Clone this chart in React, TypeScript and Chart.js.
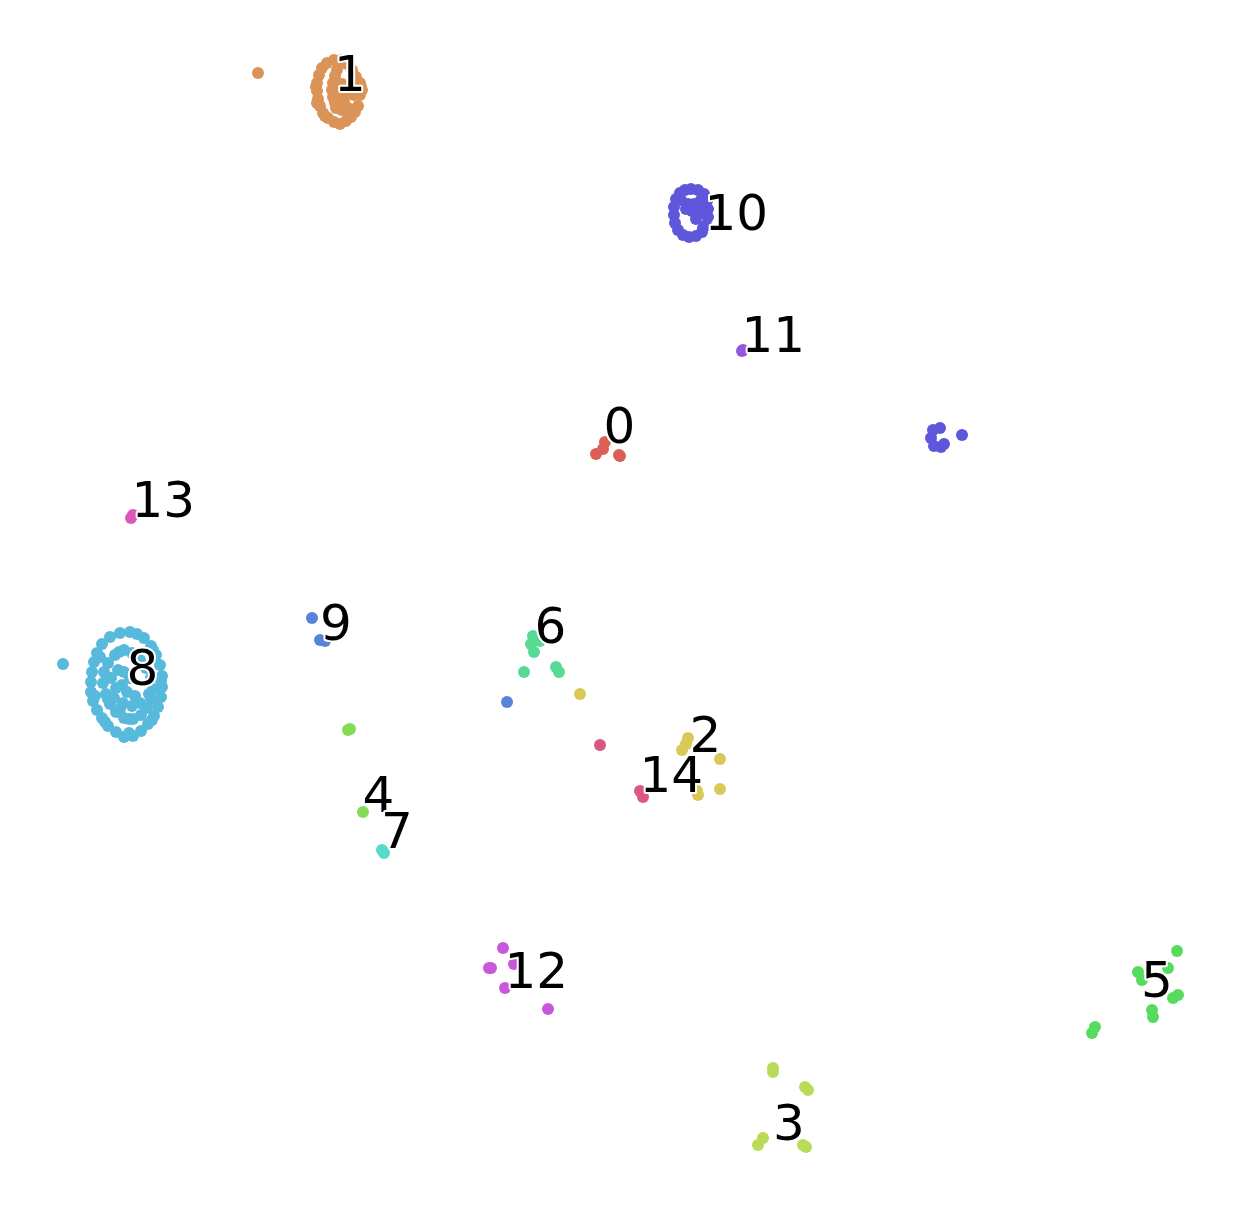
import React, { useEffect, useRef } from "react";
import { Chart, registerables } from "chart.js";

Chart.register(...registerables);

// Cluster points, embedding coordinates [x, y]
const cluster0 = [[-2.4, 15.1], [-1.7, 15.6], [-1.5, 16.3], [-0.1, 15.0], [0.0, 14.9]];
const cluster1 = [
  [-36.2, 53.2], [-28.6, 54.5], [-29.3, 54.2], [-29.8, 53.7], [-30.1, 53.0], [-30.3, 52.2], [-30.3, 51.4],
  [-30.2, 50.6], [-30.0, 49.9], [-29.7, 49.2], [-29.2, 48.7], [-28.6, 48.3], [-28.0, 48.1], [-27.4, 48.4],
  [-26.9, 48.8], [-26.5, 49.3], [-26.2, 49.9], [-27.9, 54.5], [-27.3, 54.1], [-26.8, 53.5], [-26.4, 52.8],
  [-26.0, 52.2], [-25.8, 51.5], [-26.0, 51.0], [-26.6, 51.0], [-27.2, 51.1], [-28.3, 53.5], [-28.5, 52.9],
  [-28.7, 52.2], [-28.8, 51.5], [-28.7, 50.8], [-28.5, 50.2], [-28.4, 49.7], [-27.8, 49.5], [-27.2, 49.7],
  [-27.6, 50.3], [-28.0, 50.8], [-27.9, 51.3], [-27.8, 52.1],
  [-30.4, 51.8], [-30.3, 50.2], [-29.5, 48.9], [-25.9, 51.8],
];
const cluster2 = [[-4.0, -8.9], [6.8, -13.3], [6.6, -13.9], [6.2, -14.5], [10.0, -15.4], [10.0, -18.4], [7.8, -19.0], [7.7, -18.6]];
const cluster3 = [[15.3, -46.3], [15.3, -46.7], [18.5, -48.2], [18.8, -48.5], [14.3, -53.3], [13.8, -54.0], [18.3, -54.0], [18.6, -54.2]];
const cluster4 = [[-27.2, -12.5], [-27.0, -12.4], [-25.7, -20.7]];
const cluster5 = [
  [55.7, -34.6], [51.8, -36.7], [52.2, -37.5], [54.8, -36.3], [55.3, -39.3], [55.8, -39.0],
  [53.2, -40.5], [53.3, -41.2], [47.2, -42.8], [47.5, -42.2],
];
const cluster6 = [[-8.7, -3.1], [-8.9, -3.9], [-8.0, -3.6], [-8.6, -4.7], [-8.4, -3.3], [-9.6, -6.7], [-6.4, -6.2], [-6.1, -6.7]];
const cluster7 = [[-23.8, -24.5], [-23.6, -24.8]];
const cluster8 = [
  [-55.7, -5.9],
  [-49.0, -2.7], [-50.0, -2.8], [-51.0, -3.2], [-51.8, -3.9], [-52.3, -4.8], [-52.6, -5.7], [-52.8, -6.7],
  [-52.9, -7.7], [-52.9, -8.7], [-52.7, -9.6], [-52.3, -10.5], [-51.8, -11.3], [-51.2, -12.1], [-50.4, -12.7],
  [-49.6, -13.2], [-48.7, -13.1], [-47.9, -12.6], [-47.2, -11.9], [-46.6, -11.1], [-46.2, -10.2], [-45.9, -9.2],
  [-45.8, -8.2], [-45.8, -7.1], [-46.0, -6.0], [-46.4, -5.0], [-46.9, -4.1], [-47.6, -3.3], [-48.3, -2.9],
  [-49.6, -4.5], [-50.5, -5.0], [-51.2, -5.8], [-51.6, -6.7], [-51.7, -7.8], [-51.4, -8.9], [-51.0, -9.9],
  [-50.4, -10.7], [-49.6, -11.3], [-48.7, -11.4], [-47.9, -11.0], [-47.3, -10.3], [-46.9, -9.4], [-46.7, -8.4],
  [-46.9, -7.3], [-47.4, -6.3], [-48.0, -5.5], [-48.8, -4.8],
  [-50.2, -6.5], [-49.6, -6.7], [-49.0, -7.3], [-49.8, -8.0], [-50.4, -8.3], [-49.3, -8.7], [-48.5, -9.1],
  [-48.0, -9.8], [-48.8, -10.1], [-49.7, -9.8], [-50.6, -9.3],
  [-52.0, -5.2], [-52.5, -9.1], [-51.5, -11.7], [-49.1, -12.8], [-46.8, -11.5], [-45.9, -7.6], [-46.7, -4.5],
  [-50.9, -7.3], [-51.2, -9.4], [-49.1, -11.4], [-47.1, -8.9], [-50.1, -4.7], [-48.4, -5.1], [-50.0, -10.4],
];
const cluster9 = [[-30.8, -1.3], [-30.0, -3.5], [-29.5, -3.6], [-11.3, -9.7]];
const cluster10 = [
  [7.1, 41.6], [7.8, 41.5], [8.4, 41.1], [8.7, 40.4], [8.8, 39.6], [8.8, 38.8], [8.6, 38.0], [8.2, 37.3],
  [7.6, 36.9], [6.9, 36.8], [6.3, 37.0], [5.8, 37.5], [5.5, 38.2], [5.4, 39.0], [5.4, 39.8], [5.6, 40.6],
  [6.0, 41.2], [6.5, 41.5], [6.8, 40.1], [7.4, 40.1], [7.9, 39.7], [8.0, 39.1], [7.6, 38.6],
  [6.6, 39.6], [7.2, 39.4], [6.1, 40.5], [8.1, 40.5], [8.3, 37.7],
  [31.3, 17.5], [32.0, 17.7], [31.1, 16.7], [31.4, 15.9], [32.1, 15.8], [32.4, 16.1], [34.2, 17.0],
];
const cluster11 = [[12.3, 25.5], [12.2, 25.4]];
const cluster12 = [[-11.7, -34.3], [-12.9, -36.3], [-13.1, -36.3], [-10.6, -35.9], [-11.5, -38.3], [-7.2, -40.4]];
const cluster13 = [[-48.9, 8.7], [-48.7, 9.0]];
const cluster14 = [[-2.0, -14.0], [2.0, -18.6], [2.3, -19.2]];

const clusters = [
  cluster0, cluster1, cluster2, cluster3, cluster4, cluster5, cluster6, cluster7,
  cluster8, cluster9, cluster10, cluster11, cluster12, cluster13, cluster14,
];

// Cluster label text and anchor (left, baseline) in embedding coordinates
const labelNames = ["0", "1", "2", "3", "4", "5", "6", "7", "8", "9", "10", "11", "12", "13", "14"];
const labelX = [-1.65, -28.6, 6.95, 15.3, -25.75, 52.1, -8.55, -23.9, -49.35, -30.0, 8.45, 12.15, -11.55, -48.85, 1.95];
const labelY = [16.2, 51.4, -14.7, -53.5, -20.7, -39.2, -3.8, -24.3, -8.0, -3.5, 37.5, 25.3, -38.3, 8.8, -18.7];

// seaborn-like hls palette (style helper)
function hlsColor(i: number, n: number): string {
  const h = (i / n + 0.01) % 1;
  const l = 0.6, s = 0.65;
  const m2 = l <= 0.5 ? l * (1 + s) : l + s - l * s;
  const m1 = 2 * l - m2;
  const v = (hue: number) => {
    hue = ((hue % 1) + 1) % 1;
    if (hue < 1 / 6) return m1 + (m2 - m1) * hue * 6;
    if (hue < 0.5) return m2;
    if (hue < 2 / 3) return m1 + (m2 - m1) * (2 / 3 - hue) * 6;
    return m1;
  };
  const r = Math.round(v(h + 1 / 3) * 255);
  const g = Math.round(v(h) * 255);
  const b = Math.round(v(h - 1 / 3) * 255);
  return `rgb(${r},${g},${b})`;
}

const labelPlugin = {
  id: "clusterLabels",
  afterDatasetsDraw(chart: any) {
    const ctx = chart.ctx;
    const xs = chart.scales.x;
    const ys = chart.scales.y;
    ctx.save();
    ctx.font = '50px "DejaVu Sans"';
    ctx.textAlign = "left";
    ctx.textBaseline = "alphabetic";
    ctx.lineJoin = "round";
    labelNames.forEach((t, i) => {
      const px = xs.getPixelForValue(labelX[i]);
      const py = ys.getPixelForValue(labelY[i]);
      ctx.strokeStyle = "#ffffff";
      ctx.lineWidth = 4;
      ctx.strokeText(t, px, py);
      ctx.fillStyle = "#000000";
      ctx.fillText(t, px, py);
    });
    ctx.restore();
  },
};

export default function App() {
  const ref = useRef<HTMLCanvasElement | null>(null);
  useEffect(() => {
    document.body.style.margin = "0";
    const canvas = ref.current!;
    const chart = new Chart(canvas, {
      type: "scatter",
      data: {
        datasets: clusters.map((pts, i) => ({
          label: labelNames[i],
          data: pts.map(([x, y]) => ({ x, y })),
          backgroundColor: hlsColor(i, 15),
          borderWidth: 0,
          pointRadius: 6,
          pointHoverRadius: 6,
        })),
      },
      options: {
        animation: false,
        responsive: false,
        devicePixelRatio: 1,
        layout: { padding: 0, autoPadding: false },
        plugins: { legend: { display: false }, tooltip: { enabled: false } },
        scales: {
          x: { type: "linear", min: -62, max: 62.2, display: false },
          y: { type: "linear", min: -60.5, max: 60.5, display: false },
        },
      },
      plugins: [labelPlugin],
    });
    return () => chart.destroy();
  }, []);
  return (
    <div style={{ width: 1242, height: 1210, background: "#fff" }}>
      <canvas ref={ref} width={1242} height={1210} style={{ display: "block" }} />
    </div>
  );
}
